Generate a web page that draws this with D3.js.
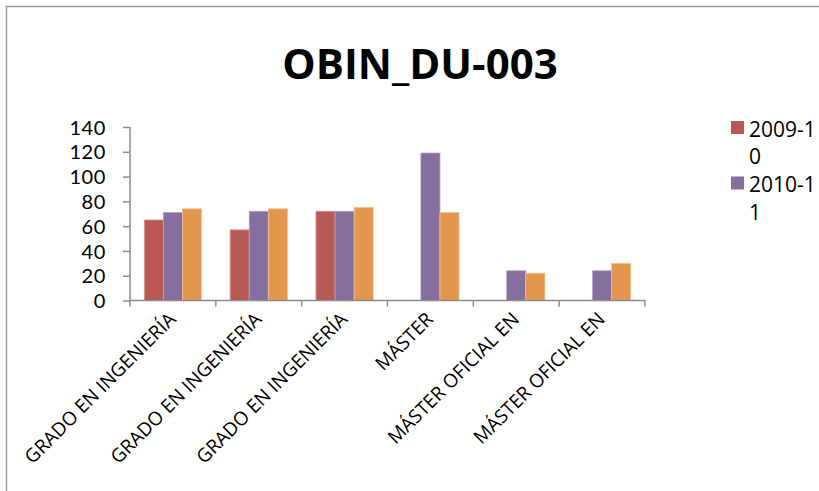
<!DOCTYPE html>
<html><head><meta charset="utf-8">
<script src="https://cdn.jsdelivr.net/npm/d3@7"></script>
<style>
html,body{margin:0;padding:0;background:#fff;}
svg{display:block;}
text{font-family:"Open Sans",sans-serif;fill:#000;}
</style></head>
<body>
<svg id="c" width="819" height="491"></svg>
<script>
const title = "OBIN_DU-003";
const categories = ["GRADO EN INGENIERÍA","GRADO EN INGENIERÍA","GRADO EN INGENIERÍA","MÁSTER","MÁSTER OFICIAL EN","MÁSTER OFICIAL EN"];
const seriesNames = ["2009-10","2010-11","2011-12"];
const s2009 = [65, 57, 72, null, null, null];
const s2010 = [71, 72, 72, 119, 24, 24];
const s2011 = [74, 74, 75, 71, 22, 30];
const yTicks = [0,20,40,60,80,100,120,140];
const colors = ["#B95953","#866E9E","#E2964E"];
const strokes = ["#D99894","#B3A2C7","#F5C08F"];

(function(){
const svg = d3.select("#c");
const seriesVals = [s2009, s2010, s2011];

// chart border
svg.append("path").attr("d","M6.5,491 V6.5 H819").attr("fill","none").attr("stroke","#9a9a9a").attr("stroke-width",1.5);

svg.append("text").attr("x",420).attr("y",79).attr("text-anchor","middle")
  .style("font-weight","bold").style("font-size","42px").text(title);

const pL = 130, pR = 645, pT = 127, pB = 300.5;
const y = d3.scaleLinear().domain([0,140]).range([pB, pT]);
const idx = categories.map((c,i)=>i);
const x0 = d3.scaleBand().domain(idx).range([pL,pR]).paddingInner(0.333).paddingOuter(0.1665);
const x1 = d3.scaleBand().domain(d3.range(seriesVals.length)).range([0, x0.bandwidth()]);

// bars
seriesVals.forEach((vals, si) => {
  svg.append("g").selectAll("rect").data(vals.map((v,i)=>({v,i})).filter(d=>d.v!=null))
    .join("rect")
    .attr("x", d => x0(d.i) + x1(si))
    .attr("y", d => y(d.v))
    .attr("width", x1.bandwidth())
    .attr("height", d => pB - y(d.v))
    .attr("fill", colors[si])
    .attr("stroke", strokes[si]).attr("stroke-width",0.8);
});

// y axis
const yAxis = d3.axisLeft(y).tickValues(yTicks).tickSize(7).tickPadding(17);
const gy = svg.append("g").attr("transform",`translate(${pL},0)`).call(yAxis);
gy.select(".domain").attr("stroke","#8c8c8c").attr("stroke-width",1.5).attr("d",`M0,${pB}V${pT}`);
gy.selectAll(".tick line").attr("stroke","#8c8c8c").attr("stroke-width",1.5);
gy.selectAll(".tick text").style("font-size","20px").style("font-family","Lato,sans-serif")
  .style("letter-spacing","0.6px").attr("fill","#000").attr("dy","0.36em");

// x axis line and boundary ticks
const step = x0.step();
const gx = svg.append("g");
gx.append("line").attr("x1",pL).attr("x2",pR).attr("y1",pB).attr("y2",pB).attr("stroke","#8c8c8c").attr("stroke-width",1.5);
gx.selectAll("line.t").data(d3.range(categories.length+1)).join("line").attr("class","t")
  .attr("x1",d=>pL + d*step).attr("x2",d=>pL + d*step)
  .attr("y1",pB).attr("y2",pB+6).attr("stroke","#8c8c8c").attr("stroke-width",1.5);

// category labels
gx.selectAll("text").data(categories.map((c,i)=>({c,i}))).join("text")
  .attr("transform", d => `translate(${x0(d.i)+x0.bandwidth()/2+4},${pB+20}) rotate(-45)`)
  .attr("text-anchor","end")
  .style("font-size","19px")
  .text(d=>d.c);

// legend (clipped, names wrapped)
const legend = svg.append("g");
const legendEntries = seriesNames.slice(0,2);
legendEntries.forEach((name, i) => {
  const by = 121 + i*55.5;
  legend.append("rect").attr("x",731).attr("y",by).attr("width",13).attr("height",13).attr("fill",colors[i]);
  const lines = [name.slice(0,6), name.slice(6)];
  lines.forEach((ln, j) => {
    legend.append("text").attr("x",749).attr("y",by + 15.5 + j*27.5).style("font-size","21px").text(ln);
  });
});
})();
</script>
</body></html>
